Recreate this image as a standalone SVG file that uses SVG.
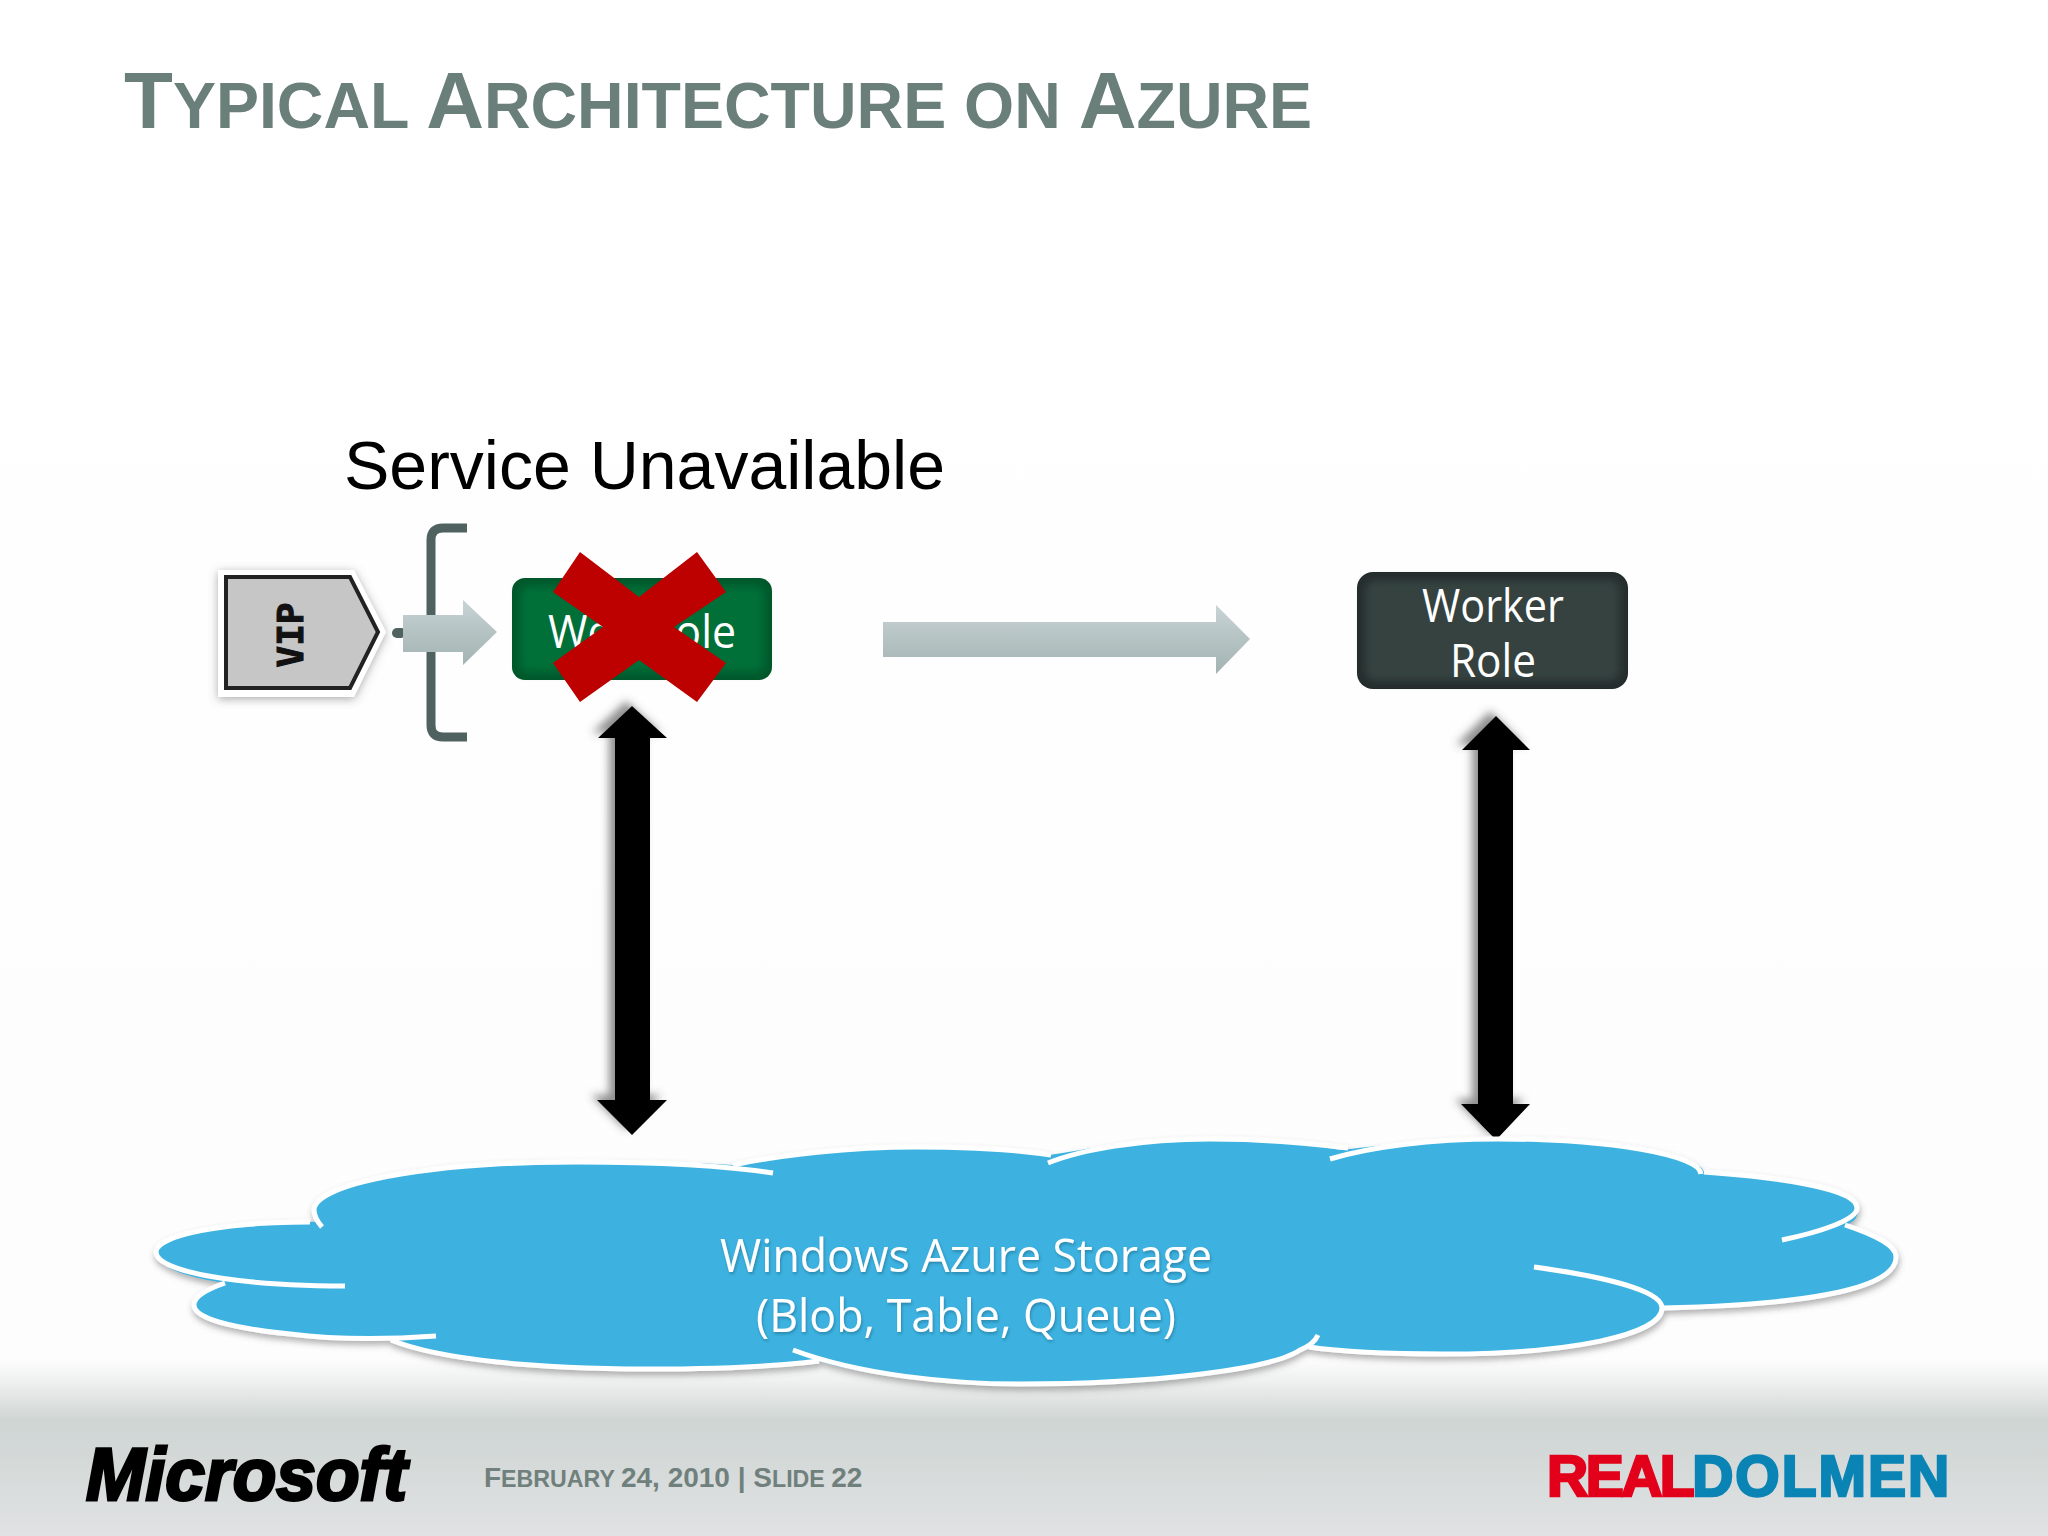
<svg xmlns="http://www.w3.org/2000/svg" width="2048" height="1536" viewBox="0 0 2048 1536">
<style>
.sans{font-family:"Liberation Sans",Arial,sans-serif}
.role{font-family:"Open Sans","Noto Sans",sans-serif;fill:#fff;font-size:45px;text-anchor:middle}
.cloudtext{font-family:"Open Sans","Noto Sans",sans-serif;fill:#fff;font-size:45px;text-anchor:middle;filter:url(#textshadow)}
.title{font-weight:700;fill:#6a7f79}
.foot{font-weight:700;fill:#70807c}
.edge{fill:none;stroke:#fff;stroke-width:5;stroke-linecap:butt}
.dbl{fill:#000;filter:url(#arrowshadow)}
</style>
<defs>
<linearGradient id="bg" x1="0" y1="0" x2="0" y2="1"><stop offset="0" stop-color="#ffffff"/><stop offset="0.885" stop-color="#fdfdfd"/><stop offset="0.9" stop-color="#eeefef"/><stop offset="0.925" stop-color="#ced5d3"/><stop offset="1" stop-color="#e0e2e3"/></linearGradient>
<linearGradient id="arrowfill" x1="0" y1="0" x2="0" y2="1"><stop offset="0" stop-color="#c8d3d4"/><stop offset="1" stop-color="#a2b2b2"/></linearGradient>
<filter id="blur4" x="-10%" y="-20%" width="120%" height="140%"><feGaussianBlur stdDeviation="4"/></filter>
<filter id="cloudshadow" x="-5%" y="-10%" width="110%" height="120%"><feDropShadow dx="1" dy="4" stdDeviation="3" flood-color="#555" flood-opacity="0.45"/></filter>
<filter id="vipshadow" x="-15%" y="-15%" width="130%" height="130%"><feDropShadow dx="0" dy="2" stdDeviation="5" flood-color="#555" flood-opacity="0.5"/></filter>
<filter id="arrowshadow" x="-40%" y="-5%" width="180%" height="110%"><feDropShadow dx="-6" dy="-5" stdDeviation="4" flood-color="#444" flood-opacity="0.6"/></filter>
<filter id="textshadow" x="-5%" y="-20%" width="110%" height="140%"><feDropShadow dx="1" dy="2" stdDeviation="1.5" flood-color="#1a6a8a" flood-opacity="0.6"/></filter>
</defs>
<rect id="background" width="2048" height="1536" fill="url(#bg)"/>
<text id="title" class="sans title" x="124" y="128" font-size="64.5"><tspan font-size="80">T</tspan>YPICAL <tspan font-size="80">A</tspan>RCHITECTURE ON <tspan font-size="80">A</tspan>ZURE</text>
<text id="status" class="sans" x="344" y="489" font-size="68" fill="#000">Service Unavailable</text>
<g id="connectors">
<path id="bracket" d="M467 528H443Q431 528 431 540V725Q431 737 443 737H467" fill="none" stroke="#4f6260" stroke-width="9"/>
<rect x="392" y="628" width="14" height="10" rx="5" fill="#4f6260"/>
<path id="vip-arrow" d="M403 615H463V600L497 632L463 665V652H403Z" fill="url(#arrowfill)"/>
<path id="long-arrow" d="M883 622H1216V605L1250 639L1216 674V657H883Z" fill="url(#arrowfill)"/>
<path id="web-storage" class="dbl" d="M632 706L667 738H650V1100H667L632 1135L597 1100H615V738H598Z"/>
<path id="worker-storage" class="dbl" d="M1496 716L1530 750H1513V1104H1530L1496 1140L1461 1104H1478V750H1462Z"/>
</g>
<g id="vip">
<path d="M218 570H354L386 632L354 697H218Z" fill="#fff" filter="url(#vipshadow)"/>
<path d="M226 577H350L378 632L350 688H226Z" fill="#c6c6c6" stroke="#222" stroke-width="4"/>
<text transform="translate(303 635) rotate(-90)" font-family="'DejaVu Sans Mono',monospace" font-weight="700" font-size="36" text-anchor="middle" fill="#111" stroke="#111" stroke-width="1">VIP</text>
</g>
<g id="web-role">
<rect x="512" y="578" width="260" height="102" rx="13" fill="#00572b"/>
<rect x="520" y="586" width="244" height="86" rx="8" fill="#006f38" filter="url(#blur4)"/>
<text class="role" x="642" y="648" textLength="188" lengthAdjust="spacingAndGlyphs">Web Role</text>
<path id="red-x" d="M580 552L639 597L697 552L726 592L674 627L726 663L697 702L639 660L580 702L553 663L603 627L553 592Z" fill="#bd0000"/>
</g>
<g id="worker-role">
<rect x="1357" y="572" width="271" height="117" rx="16" fill="#252c2c"/>
<rect x="1365" y="580" width="255" height="101" rx="10" fill="#344241" filter="url(#blur4)"/>
<text class="role" x="1493" y="622" textLength="142" lengthAdjust="spacingAndGlyphs">Worker</text>
<text class="role" x="1493" y="677" textLength="86" lengthAdjust="spacingAndGlyphs">Role</text>
</g>
<g id="storage">
<g filter="url(#cloudshadow)">
<path d="M322 1227C316 1220 310 1222 310 1222C225 1222 156 1235 156 1252C156 1268 190 1278 225 1283C205 1290 194 1297 194 1305C194 1325 280 1340 391 1338C440 1360 540 1370 647 1369C720 1369 780 1366 819 1361C860 1375 950 1384 1020 1384C1150 1384 1270 1370 1305 1347C1350 1353 1400 1354 1444 1354C1570 1354 1662 1335 1663 1308C1800 1305 1896 1290 1896 1257C1896 1245 1875 1235 1845 1225C1860 1220 1857 1213 1857 1208C1857 1190 1790 1178 1704 1172C1700 1155 1610 1139 1498 1139C1430 1139 1370 1147 1340 1150C1300 1142 1260 1139 1210 1139C1140 1139 1080 1150 1050 1155C1010 1149 960 1147 916 1147C850 1147 780 1155 733 1165C690 1162 640 1162 578 1162C420 1162 314 1185 314 1210C314 1215 316 1220 322 1227Z" fill="#3eb2e0"/>
<path class="edge" d="M322 1227C316 1220 314 1215 314 1210C314 1185 420 1162 578 1162C650 1162 720 1165 773 1173"/>
<path class="edge" d="M733 1165C780 1155 850 1147 916 1147C960 1147 1010 1149 1051 1155"/>
<path class="edge" d="M1048 1163C1080 1150 1140 1139 1210 1139C1260 1139 1300 1142 1348 1148"/>
<path class="edge" d="M1330 1159C1370 1147 1430 1139 1498 1139C1610 1139 1700 1155 1701 1174"/>
<path class="edge" d="M1704 1172C1790 1178 1857 1190 1857 1208C1857 1220 1820 1232 1782 1240"/>
<path class="edge" d="M1845 1225C1875 1235 1896 1245 1896 1257C1896 1290 1800 1305 1663 1308"/>
<path class="edge" d="M1534 1267C1600 1276 1662 1290 1662 1308C1662 1335 1570 1354 1444 1354C1400 1354 1350 1353 1309 1347"/>
<path class="edge" d="M1318 1335C1315 1342 1310 1346 1300 1350C1270 1370 1150 1384 1020 1384C950 1384 860 1375 793 1350"/>
<path class="edge" d="M819 1361C780 1366 720 1369 647 1369C540 1369 440 1360 391 1340"/>
<path class="edge" d="M436 1336C380 1340 330 1339 290 1334C230 1328 194 1318 194 1305C194 1297 205 1290 225 1283"/>
<path class="edge" d="M345 1286C240 1286 156 1272 156 1252C156 1235 225 1222 310 1222"/>
</g>
<text class="cloudtext" x="966" y="1272" textLength="492" lengthAdjust="spacingAndGlyphs">Windows Azure Storage</text>
<text class="cloudtext" x="966" y="1332" textLength="420" lengthAdjust="spacingAndGlyphs">(Blob, Table, Queue)</text>
</g>
<g id="footer">
<text id="microsoft" class="sans" x="86" y="1500" font-size="74" font-weight="700" font-style="italic" fill="#000" stroke="#000" stroke-width="3" textLength="321" lengthAdjust="spacingAndGlyphs">Microsoft</text>
<text id="slide" class="sans foot" x="484" y="1487" font-size="23.2"><tspan font-size="28">F</tspan>EBRUARY <tspan font-size="28">24, 2010 | S</tspan>LIDE <tspan font-size="28">22</tspan></text>
<text id="realdolmen" class="sans" x="1547" y="1496" font-size="57" font-weight="700" stroke-width="2.5"><tspan fill="#e2001a" stroke="#e2001a" letter-spacing="-2.5">REAL</tspan><tspan fill="#0a84b4" stroke="#0a84b4" letter-spacing="2">DOLMEN</tspan></text>
</g>
</svg>
